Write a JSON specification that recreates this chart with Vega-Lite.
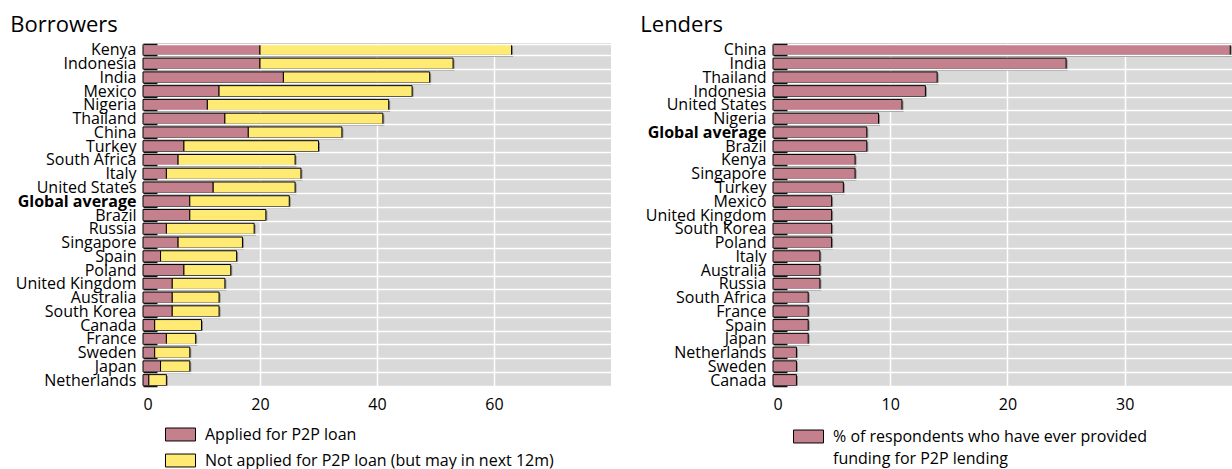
{
  "$schema": "https://vega.github.io/schema/vega-lite/v6.json",
  "padding": {"left": 10, "top": 14, "right": 0, "bottom": 0},
  "background": "white",
  "config": {
    "font": "Open Sans",
    "view": {"fill": "#d9d9d9", "stroke": null},
    "axis": {"labelFont": "Open Sans", "labelFontSize": 16, "labelColor": "black", "domain": false, "gridColor": "white", "gridWidth": 1.5, "gridOpacity": 1},
    "title": {"font": "Open Sans", "fontSize": 22, "fontWeight": "normal", "anchor": "start", "frame": "bounds", "color": "black", "offset": -2, "dx": -5},
    "legend": {"labelFont": "Open Sans", "labelFontSize": 16, "labelColor": "black", "padding": 0, "labelLimit": 600, "symbolType": "M-1.25,-0.54L1.25,-0.54L1.25,0.54L-1.25,0.54Z", "symbolSize": 576, "symbolStrokeColor": "black", "symbolStrokeWidth": 1, "symbolOpacity": 1, "labelOffset": 12, "rowPadding": 5},
    "concat": {"spacing": 29}
  },
  "resolve": {"scale": {"color": "independent", "x": "independent", "y": "independent"}},
  "hconcat": [
    {
      "title": {"text": "Borrowers"},
      "width": 468,
      "height": 344,
      "data": {"values": [
        {"country": "Kenya", "status": "Applied for P2P loan", "value": 20},
        {"country": "Kenya", "status": "Not applied for P2P loan (but may in next 12m)", "value": 43},
        {"country": "Indonesia", "status": "Applied for P2P loan", "value": 20},
        {"country": "Indonesia", "status": "Not applied for P2P loan (but may in next 12m)", "value": 33},
        {"country": "India", "status": "Applied for P2P loan", "value": 24},
        {"country": "India", "status": "Not applied for P2P loan (but may in next 12m)", "value": 25},
        {"country": "Mexico", "status": "Applied for P2P loan", "value": 13},
        {"country": "Mexico", "status": "Not applied for P2P loan (but may in next 12m)", "value": 33},
        {"country": "Nigeria", "status": "Applied for P2P loan", "value": 11},
        {"country": "Nigeria", "status": "Not applied for P2P loan (but may in next 12m)", "value": 31},
        {"country": "Thailand", "status": "Applied for P2P loan", "value": 14},
        {"country": "Thailand", "status": "Not applied for P2P loan (but may in next 12m)", "value": 27},
        {"country": "China", "status": "Applied for P2P loan", "value": 18},
        {"country": "China", "status": "Not applied for P2P loan (but may in next 12m)", "value": 16},
        {"country": "Turkey", "status": "Applied for P2P loan", "value": 7},
        {"country": "Turkey", "status": "Not applied for P2P loan (but may in next 12m)", "value": 23},
        {"country": "South Africa", "status": "Applied for P2P loan", "value": 6},
        {"country": "South Africa", "status": "Not applied for P2P loan (but may in next 12m)", "value": 20},
        {"country": "Italy", "status": "Applied for P2P loan", "value": 4},
        {"country": "Italy", "status": "Not applied for P2P loan (but may in next 12m)", "value": 23},
        {"country": "United States", "status": "Applied for P2P loan", "value": 12},
        {"country": "United States", "status": "Not applied for P2P loan (but may in next 12m)", "value": 14},
        {"country": "Global average", "status": "Applied for P2P loan", "value": 8},
        {"country": "Global average", "status": "Not applied for P2P loan (but may in next 12m)", "value": 17},
        {"country": "Brazil", "status": "Applied for P2P loan", "value": 8},
        {"country": "Brazil", "status": "Not applied for P2P loan (but may in next 12m)", "value": 13},
        {"country": "Russia", "status": "Applied for P2P loan", "value": 4},
        {"country": "Russia", "status": "Not applied for P2P loan (but may in next 12m)", "value": 15},
        {"country": "Singapore", "status": "Applied for P2P loan", "value": 6},
        {"country": "Singapore", "status": "Not applied for P2P loan (but may in next 12m)", "value": 11},
        {"country": "Spain", "status": "Applied for P2P loan", "value": 3},
        {"country": "Spain", "status": "Not applied for P2P loan (but may in next 12m)", "value": 13},
        {"country": "Poland", "status": "Applied for P2P loan", "value": 7},
        {"country": "Poland", "status": "Not applied for P2P loan (but may in next 12m)", "value": 8},
        {"country": "United Kingdom", "status": "Applied for P2P loan", "value": 5},
        {"country": "United Kingdom", "status": "Not applied for P2P loan (but may in next 12m)", "value": 9},
        {"country": "Australia", "status": "Applied for P2P loan", "value": 5},
        {"country": "Australia", "status": "Not applied for P2P loan (but may in next 12m)", "value": 8},
        {"country": "South Korea", "status": "Applied for P2P loan", "value": 5},
        {"country": "South Korea", "status": "Not applied for P2P loan (but may in next 12m)", "value": 8},
        {"country": "Canada", "status": "Applied for P2P loan", "value": 2},
        {"country": "Canada", "status": "Not applied for P2P loan (but may in next 12m)", "value": 8},
        {"country": "France", "status": "Applied for P2P loan", "value": 4},
        {"country": "France", "status": "Not applied for P2P loan (but may in next 12m)", "value": 5},
        {"country": "Sweden", "status": "Applied for P2P loan", "value": 2},
        {"country": "Sweden", "status": "Not applied for P2P loan (but may in next 12m)", "value": 6},
        {"country": "Japan", "status": "Applied for P2P loan", "value": 3},
        {"country": "Japan", "status": "Not applied for P2P loan (but may in next 12m)", "value": 5},
        {"country": "Netherlands", "status": "Applied for P2P loan", "value": 1},
        {"country": "Netherlands", "status": "Not applied for P2P loan (but may in next 12m)", "value": 3}
      ]},
      "encoding": {
        "y": {
          "field": "country", "type": "nominal",
          "sort": ["Kenya", "Indonesia", "India", "Mexico", "Nigeria", "Thailand", "China", "Turkey", "South Africa", "Italy", "United States", "Global average", "Brazil", "Russia", "Singapore", "Spain", "Poland", "United Kingdom", "Australia", "South Korea", "Canada", "France", "Sweden", "Japan", "Netherlands"],
          "scale": {"paddingInner": 0.2, "paddingOuter": 0.1},
          "axis": {"title": null, "tickBand": "extent", "grid": true, "ticks": true, "tickSize": -14, "tickColor": "#111", "tickWidth": 1.5, "labelPadding": 21, "zindex": 1,
            "labelFontWeight": {"condition": {"test": "datum.value == 'Global average'", "value": "bold"}, "value": "normal"}}
        },
        "x": {
          "field": "value", "type": "quantitative", "stack": "zero",
          "scale": {"domain": [0, 80], "nice": false},
          "axis": {"title": null, "values": [0, 20, 40, 60], "ticks": false, "labelPadding": 9, "grid": true}
        }
      },
      "layer": [
        {
          "mark": {"type": "bar", "color": "#7a7a7a", "xOffset": 1.5, "yOffset": 1.5, "opacity": 0.8}
        },
        {
          "mark": {"type": "bar", "stroke": "black", "strokeWidth": 1},
          "encoding": {
            "color": {
              "field": "status", "type": "nominal",
              "scale": {"domain": ["Applied for P2P loan", "Not applied for P2P loan (but may in next 12m)"], "range": ["#c5808e", "#ffeb73"]},
              "legend": {"title": null, "orient": "none", "legendX": 25, "legendY": 379, "direction": "vertical"}
            }
          }
        }
      ]
    },
    {
      "title": {"text": "Lenders"},
      "width": 459,
      "height": 344,
      "data": {"values": [
        {"country": "China", "status": "% of respondents who have ever provided funding for P2P lending", "value": 39},
        {"country": "India", "status": "% of respondents who have ever provided funding for P2P lending", "value": 25},
        {"country": "Thailand", "status": "% of respondents who have ever provided funding for P2P lending", "value": 14},
        {"country": "Indonesia", "status": "% of respondents who have ever provided funding for P2P lending", "value": 13},
        {"country": "United States", "status": "% of respondents who have ever provided funding for P2P lending", "value": 11},
        {"country": "Nigeria", "status": "% of respondents who have ever provided funding for P2P lending", "value": 9},
        {"country": "Global average", "status": "% of respondents who have ever provided funding for P2P lending", "value": 8},
        {"country": "Brazil", "status": "% of respondents who have ever provided funding for P2P lending", "value": 8},
        {"country": "Kenya", "status": "% of respondents who have ever provided funding for P2P lending", "value": 7},
        {"country": "Singapore", "status": "% of respondents who have ever provided funding for P2P lending", "value": 7},
        {"country": "Turkey", "status": "% of respondents who have ever provided funding for P2P lending", "value": 6},
        {"country": "Mexico", "status": "% of respondents who have ever provided funding for P2P lending", "value": 5},
        {"country": "United Kingdom", "status": "% of respondents who have ever provided funding for P2P lending", "value": 5},
        {"country": "South Korea", "status": "% of respondents who have ever provided funding for P2P lending", "value": 5},
        {"country": "Poland", "status": "% of respondents who have ever provided funding for P2P lending", "value": 5},
        {"country": "Italy", "status": "% of respondents who have ever provided funding for P2P lending", "value": 4},
        {"country": "Australia", "status": "% of respondents who have ever provided funding for P2P lending", "value": 4},
        {"country": "Russia", "status": "% of respondents who have ever provided funding for P2P lending", "value": 4},
        {"country": "South Africa", "status": "% of respondents who have ever provided funding for P2P lending", "value": 3},
        {"country": "France", "status": "% of respondents who have ever provided funding for P2P lending", "value": 3},
        {"country": "Spain", "status": "% of respondents who have ever provided funding for P2P lending", "value": 3},
        {"country": "Japan", "status": "% of respondents who have ever provided funding for P2P lending", "value": 3},
        {"country": "Netherlands", "status": "% of respondents who have ever provided funding for P2P lending", "value": 2},
        {"country": "Sweden", "status": "% of respondents who have ever provided funding for P2P lending", "value": 2},
        {"country": "Canada", "status": "% of respondents who have ever provided funding for P2P lending", "value": 2}
      ]},
      "encoding": {
        "y": {
          "field": "country", "type": "nominal",
          "sort": ["China", "India", "Thailand", "Indonesia", "United States", "Nigeria", "Global average", "Brazil", "Kenya", "Singapore", "Turkey", "Mexico", "United Kingdom", "South Korea", "Poland", "Italy", "Australia", "Russia", "South Africa", "France", "Spain", "Japan", "Netherlands", "Sweden", "Canada"],
          "scale": {"paddingInner": 0.2, "paddingOuter": 0.1},
          "axis": {"title": null, "tickBand": "extent", "grid": true, "ticks": true, "tickSize": -14, "tickColor": "#111", "tickWidth": 1.5, "labelPadding": 21, "zindex": 1,
            "labelFontWeight": {"condition": {"test": "datum.value == 'Global average'", "value": "bold"}, "value": "normal"}}
        },
        "x": {
          "field": "value", "type": "quantitative",
          "scale": {"domain": [0, 39.15], "nice": false},
          "axis": {"title": null, "values": [0, 10, 20, 30], "ticks": false, "labelPadding": 9, "grid": true}
        }
      },
      "layer": [
        {
          "mark": {"type": "bar", "color": "#7a7a7a", "xOffset": 1.5, "yOffset": 1.5, "opacity": 0.8}
        },
        {
          "mark": {"type": "bar", "stroke": "black", "strokeWidth": 1},
          "encoding": {
            "color": {
              "field": "status", "type": "nominal",
              "scale": {"range": ["#c5808e"]},
              "legend": {"title": null, "orient": "none", "legendX": 23, "legendY": 381, "direction": "vertical",
                "labelExpr": "datum.label == '% of respondents who have ever provided funding for P2P lending' ? ['% of respondents who have ever provided', 'funding for P2P lending'] : datum.label",
                "encode": {"labels": {"update": {"lineHeight": {"value": 22.5}}}}}
            }
          }
        }
      ]
    }
  ]
}
